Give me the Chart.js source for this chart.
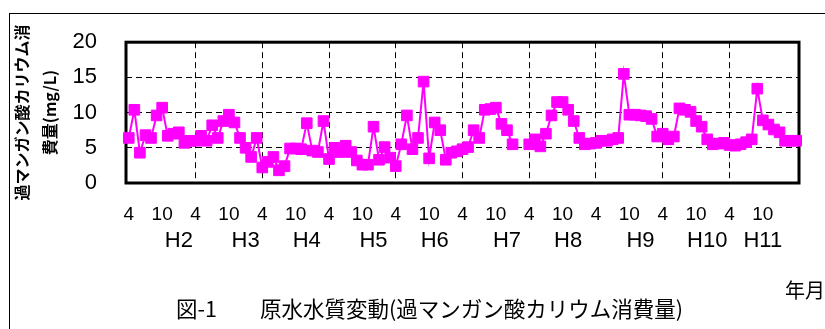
<!DOCTYPE html>
<html>
<head>
<meta charset="utf-8">
<script src="https://cdn.jsdelivr.net/npm/chart.js@4/dist/chart.umd.min.js"></script>
<style>
  body { margin: 0; background: #fff; overflow: hidden; }
  #wrap { position: relative; width: 825px; height: 329px; overflow: hidden; }
  .frame { position: absolute; left: 9px; top: 13px; width: 900px; height: 400px;
           border-left: 1px solid #000; border-top: 1px solid #000; }
  canvas { position: absolute; left: 0; top: 0; }
  .cap { position: absolute; left: 176px; top: 292px; font: 21.5px "Noto Sans CJK JP", sans-serif;
         white-space: nowrap; color: #000; }
  .unit { position: absolute; left: 785px; top: 275px; font: 20px "Noto Sans CJK JP", sans-serif;
          white-space: nowrap; color: #000; }
</style>
</head>
<body>
<div id="wrap">
  <div class="frame"></div>
  <canvas id="chart" width="825" height="329"></canvas>
  <div class="cap">図-1　　原水水質変動(過マンガン酸カリウム消費量)</div>
  <div class="unit">年月</div>
</div>
<script>
// monthly KMnO4 consumption (mg/L), April H2 .. April H12
const kmno4 = [
  6.4, 10.4, 4.3, 6.8, 6.4, 9.6, 10.7, 6.7, 7.0, 7.2, 5.7, 6.0,     // H2
  6.0, 6.7, 6.0, 8.2, 6.4, 8.8, 9.7, 8.6, 6.4, 5.0, 3.7, 6.4,       // H3
  2.2, 3.0, 3.7, 1.8, 2.4, 4.9, 4.9, 4.8, 8.5, 4.6, 4.4, 8.8,       // H4
  3.4, 5.0, 4.4, 5.3, 4.4, 3.2, 2.6, 2.6, 8.0, 3.3, 5.1, 3.6,       // H5
  2.4, 5.5, 9.6, 4.8, 6.4, 14.4, 3.5, 8.6, 7.5, 3.3, 4.3, 4.5,      // H6
  4.8, 5.1, 7.5, 6.4, 10.4, 10.5, 10.7, 8.4, 7.5, 5.5, null, null,  // H7
  5.5, 6.2, 5.2, 7.0, 9.6, 11.5, 11.5, 10.4, 8.8, 6.4, 5.5, 5.6,    // H8
  5.7, 6.0, 6.0, 6.2, 6.4, 15.5, 9.7, 9.7, 9.6, 9.5, 9.1, 6.6,      // H9
  7.0, 6.2, 6.6, 10.6, 10.4, 10.1, 8.8, 8.0, 6.2, 5.5, 5.6, 5.7,    // H10
  5.4, 5.3, 5.5, 5.8, 6.2, 13.4, 8.9, 8.3, 7.6, 7.2, 6.0, 6.0,      // H11
  6.0                                                               // H12.4
];

const firstYear = 2;
const monthTicks = { 4: '4', 10: '10' };
const eraLabels = ['H2', 'H3', 'H4', 'H5', 'H6', 'H7', 'H8', 'H9', 'H10', 'H11'];
const eraIndex  = [9, 21, 32, 44, 55, 68, 79, 92, 104, 114];
const yTicks = [0, 5, 10, 15, 20];

// category list: H2.4, H2.5 ... H12.4
const months = [];
for (let k = 0; k < kmno4.length; k++) {
  const m = (3 + k) % 12 + 1;
  const y = firstYear + Math.floor((k + 3) / 12);
  months.push('H' + y + '.' + m);
}
function monthOf(i) { return Number(months[i].split('.')[1]); }
const last = months.length - 1;

const frame = {
  id: 'frame',
  beforeDatasetsDraw(chart) {
    const { ctx, chartArea: a } = chart;
    ctx.save();
    ctx.strokeStyle = '#000';
    ctx.lineWidth = 3;
    ctx.strokeRect(a.left, a.top, a.right - a.left, a.bottom - a.top);
    ctx.restore();
  }
};

new Chart(document.getElementById('chart'), {
  type: 'line',
  data: {
    labels: months,
    datasets: [{
      data: kmno4,
      borderColor: '#ff00ff',
      backgroundColor: '#ff00ff',
      borderWidth: 2,
      pointStyle: 'rect',
      pointRadius: 7.5,
      pointBorderWidth: 1,
      pointBackgroundColor: '#ff00ff',
      pointBorderColor: '#ff00ff',
      spanGaps: false,
      tension: 0,
      clip: false
    }]
  },
  options: {
    responsive: false,
    animation: false,
    layout: { padding: { left: 8, top: 33, right: 26, bottom: 71 } },
    plugins: { legend: { display: false }, tooltip: { enabled: false } },
    scales: {
      x: {
        type: 'category',
        offset: true,
        grid: {
          offset: false,
          drawTicks: false,
          lineWidth: 1,
          color: c => (c.index > 0 && c.index < last && monthOf(c.index) === 4) ? '#000' : 'transparent'
        },
        border: { display: false, dash: [6, 4] },
        ticks: {
          autoSkip: false, maxRotation: 0, minRotation: 0, padding: 20, color: '#000',
          font: { family: 'Liberation Sans', size: 19 },
          callback: (v, i) => i < last ? (monthTicks[monthOf(i)] || '') : ''
        },
        afterFit: s => { s.height = 45; }
      },
      x2: {
        type: 'category',
        position: 'bottom',
        offset: true,
        grid: { display: false, drawTicks: false },
        border: { display: false },
        ticks: {
          autoSkip: false, maxRotation: 0, minRotation: 0, padding: 0, color: '#000',
          font: { family: 'Liberation Sans', size: 22 },
          callback: (v, i) => { const k = eraIndex.indexOf(i); return k >= 0 ? eraLabels[k] : ''; }
        },
        afterFit: s => { s.height = 30; }
      },
      y: {
        min: 0, max: 20,
        afterBuildTicks: s => { s.ticks = yTicks.map(v => ({ value: v })); },
        grid: {
          drawTicks: false,
          lineWidth: 1,
          color: c => (c.tick.value > 0 && c.tick.value < 20) ? '#000' : 'transparent'
        },
        border: { display: false, dash: [6, 4] },
        ticks: { padding: 29, color: '#000', font: { family: 'Liberation Sans', size: 22 } },
        title: {
          display: true,
          text: ['過マンガン酸カリウム消', '費量(mg/L)'],
          color: '#000',
          padding: { top: 0, bottom: 0 },
          font: { family: 'Noto Sans CJK JP', size: 16, weight: 'bold', lineHeight: 1.75 }
        },
        afterFit: s => { s.width = 118; }
      }
    }
  },
  plugins: [frame]
});
</script>
</body>
</html>
